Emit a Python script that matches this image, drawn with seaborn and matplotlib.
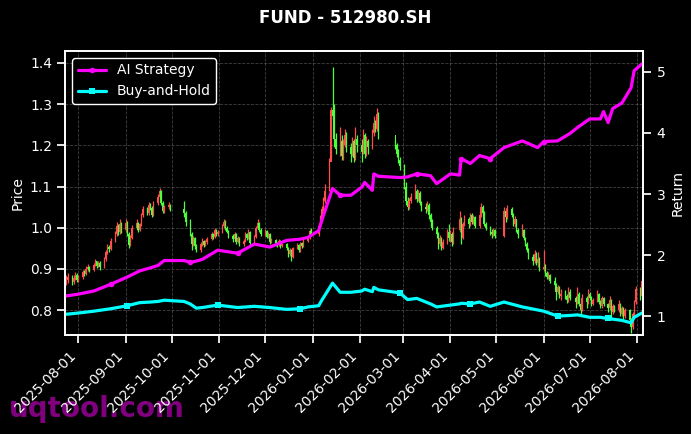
import pandas as pd
import numpy as np
import seaborn as sns
import matplotlib
matplotlib.use("Agg")
import matplotlib.pyplot as plt
import matplotlib.dates as mdates

sns.set_theme(style="ticks", rc={
    "figure.facecolor": "black", "axes.facecolor": "black",
    "axes.edgecolor": "white", "axes.labelcolor": "white",
    "text.color": "white", "xtick.color": "white", "ytick.color": "white",
    "font.size": 10, "axes.labelsize": 10, "xtick.labelsize": 10,
    "ytick.labelsize": 10, "legend.fontsize": 10,
})

# trading calendar (SSE holidays removed)
holidays = ["2025-10-01", "2025-10-02", "2025-10-03", "2025-10-06", "2025-10-07", "2025-10-08",
            "2026-01-01", "2026-01-02",
            "2026-02-16", "2026-02-17", "2026-02-18", "2026-02-19", "2026-02-20", "2026-02-23",
            "2026-04-06", "2026-05-01", "2026-05-04", "2026-05-05", "2026-06-19"]

close = [
    # 2025-07
    0.872, 0.880, 0.868, 0.878, 0.885, 0.874,
    # 2025-08
    0.880, 0.893, 0.888, 0.900, 0.905, 0.897, 0.910, 0.918, 0.908, 0.915, 0.905,
    0.925, 0.940, 0.952, 0.948, 0.968, 0.985, 1.005, 0.990, 1.010, 0.995,
    # 2025-09
    1.012, 0.985, 0.958, 0.975, 1.000, 1.012, 0.995, 1.008, 1.030, 1.045, 1.035,
    1.055, 1.048, 1.030, 1.060, 1.075, 1.090, 1.060, 1.040, 1.050, 1.055, 1.045,
    # 2025-10
    1.035, 1.015, 0.985, 0.960, 0.975, 0.955, 0.945, 0.960, 0.968, 0.958, 0.965,
    0.972, 0.985, 0.978, 0.995, 0.985, 0.990,
    # 2025-11
    1.005, 1.015, 1.000, 0.990, 0.980, 0.972, 0.985, 0.965, 0.975, 0.960,
    0.968, 0.985, 0.975, 0.990, 0.962, 0.978, 1.000, 1.012, 0.995, 0.985,
    # 2025-12
    0.992, 0.978, 0.985, 0.965, 0.970, 0.962, 0.958, 0.968, 0.955, 0.960, 0.950, 0.935,
    0.945, 0.928, 0.950, 0.958, 0.945, 0.962, 0.955, 0.968, 0.975, 0.992, 0.985,
    # 2026-01
    1.005, 1.020, 1.045, 1.065, 1.090, 1.160, 1.285, 1.270, 1.215, 1.190,
    1.210, 1.175, 1.200, 1.225, 1.195, 1.180, 1.210, 1.170, 1.215, 1.200,
    # 2026-02
    1.185, 1.225, 1.180, 1.210, 1.195, 1.230, 1.255, 1.240, 1.275, 1.225,
    1.200, 1.180, 1.165, 1.150,
    # 2026-03
    1.100, 1.065, 1.050, 1.065, 1.075, 1.090, 1.070, 1.085, 1.060, 1.050, 1.045,
    1.055, 1.030, 1.015, 1.000, 0.985, 0.960, 0.975, 0.950, 0.965, 0.990, 0.975,
    # 2026-04
    0.985, 0.965, 0.995, 1.020, 0.975, 1.010, 1.020, 1.010, 1.030, 1.015, 1.025,
    1.005, 1.030, 1.050, 1.035, 1.010, 1.000, 0.990, 0.985, 0.995, 0.980,
    # 2026-05
    1.040, 1.025, 1.045, 1.030, 1.010, 1.020, 0.995, 0.985, 0.995,
    0.975, 0.960, 0.945, 0.930, 0.920, 0.935, 0.915, 0.925, 0.900,
    # 2026-06
    0.905, 0.890, 0.880, 0.885, 0.870, 0.860, 0.845, 0.855, 0.835, 0.840, 0.835,
    0.825, 0.845, 0.830, 0.820, 0.840, 0.815, 0.800, 0.830, 0.820, 0.840,
    # 2026-07
    0.830, 0.815, 0.825, 0.840, 0.820, 0.810, 0.830, 0.815, 0.805, 0.825, 0.795, 0.810,
    0.800, 0.815, 0.790, 0.805, 0.785, 0.800, 0.775, 0.760, 0.790, 0.820, 0.850,
    # 2026-08
    0.835, 0.870,
]
high = [
    0.884, 0.889, 0.884, 0.886, 0.892, 0.890,
    0.886, 0.898, 0.897, 0.906, 0.912, 0.908, 0.915, 0.924, 0.920, 0.920, 0.918,
    0.930, 0.946, 0.960, 0.957, 0.975, 0.992, 1.015, 1.008, 1.020, 1.014,
    1.020, 1.016, 0.990, 0.982, 1.006, 1.020, 1.015, 1.012, 1.036, 1.052, 1.050,
    1.062, 1.060, 1.052, 1.066, 1.082, 1.096, 1.092, 1.065, 1.056, 1.062, 1.058,
    1.065, 1.040, 1.020, 0.990, 0.980, 0.978, 0.960, 0.965, 0.975, 0.970, 0.970,
    0.978, 0.990, 0.988, 1.000, 0.998, 0.995,
    1.010, 1.020, 1.018, 1.004, 0.994, 0.985, 0.990, 0.988, 0.980, 0.978,
    0.972, 0.990, 0.988, 0.998, 0.992, 0.982, 1.005, 1.020, 1.015, 1.000,
    0.998, 0.995, 0.990, 0.988, 0.976, 0.972, 0.966, 0.972, 0.970, 0.964, 0.962, 0.952,
    0.950, 0.948, 0.954, 0.962, 0.960, 0.966, 0.965, 0.972, 0.980, 0.998, 1.000,
    1.012, 1.030, 1.052, 1.075, 1.105, 1.170, 1.292, 1.390, 1.300, 1.230,
    1.245, 1.225, 1.215, 1.240, 1.232, 1.205, 1.220, 1.215, 1.245, 1.225,
    1.215, 1.240, 1.230, 1.222, 1.215, 1.240, 1.270, 1.262, 1.290, 1.280,
    1.212, 1.205, 1.190, 1.172,
    1.155, 1.110, 1.075, 1.072, 1.085, 1.105, 1.095, 1.092, 1.088, 1.065, 1.060,
    1.065, 1.060, 1.035, 1.020, 1.005, 0.990, 0.982, 0.978, 0.972, 0.998, 1.010,
    0.995, 0.990, 1.002, 1.040, 1.025, 1.015, 1.030, 1.025, 1.036, 1.035, 1.030,
    1.028, 1.040, 1.060, 1.055, 1.040, 1.015, 1.005, 0.998, 1.000, 0.998,
    1.050, 1.048, 1.055, 1.050, 1.035, 1.028, 1.022, 1.000, 1.008,
    0.998, 0.978, 0.965, 0.950, 0.935, 0.945, 0.940, 0.940, 0.928,
    0.945, 0.912, 0.895, 0.892, 0.888, 0.880, 0.865, 0.862, 0.858, 0.850, 0.848,
    0.840, 0.855, 0.850, 0.835, 0.855, 0.845, 0.820, 0.838, 0.835, 0.850,
    0.845, 0.835, 0.830, 0.848, 0.842, 0.825, 0.835, 0.832, 0.818, 0.835, 0.828, 0.815,
    0.812, 0.825, 0.818, 0.810, 0.808, 0.805, 0.802, 0.780, 0.795, 0.825, 0.858,
    0.855, 0.882,
]
low = [
    0.860, 0.866, 0.862, 0.864, 0.873, 0.868,
    0.868, 0.876, 0.883, 0.884, 0.896, 0.892, 0.895, 0.906, 0.902, 0.905, 0.898,
    0.902, 0.920, 0.936, 0.940, 0.945, 0.965, 0.980, 0.982, 0.985, 0.988,
    0.990, 0.980, 0.950, 0.955, 0.972, 0.995, 0.990, 0.992, 1.004, 1.025, 1.030,
    1.032, 1.042, 1.026, 1.028, 1.055, 1.070, 1.055, 1.035, 1.036, 1.045, 1.040,
    1.025, 1.005, 0.980, 0.945, 0.955, 0.948, 0.940, 0.942, 0.955, 0.952, 0.955,
    0.960, 0.970, 0.972, 0.975, 0.980, 0.980,
    0.988, 1.000, 0.995, 0.986, 0.975, 0.965, 0.970, 0.960, 0.962, 0.955,
    0.956, 0.965, 0.970, 0.972, 0.956, 0.960, 0.975, 0.996, 0.990, 0.980,
    0.980, 0.974, 0.975, 0.960, 0.962, 0.956, 0.952, 0.955, 0.950, 0.952, 0.945, 0.930,
    0.932, 0.920, 0.926, 0.948, 0.940, 0.942, 0.950, 0.952, 0.965, 0.972, 0.980,
    0.980, 1.000, 1.015, 1.040, 1.060, 1.088, 1.170, 1.265, 1.195, 1.180,
    1.175, 1.165, 1.165, 1.195, 1.185, 1.160, 1.175, 1.160, 1.165, 1.185,
    1.160, 1.180, 1.170, 1.175, 1.180, 1.190, 1.222, 1.232, 1.235, 1.215,
    1.190, 1.172, 1.158, 1.140,
    1.095, 1.055, 1.042, 1.045, 1.060, 1.070, 1.062, 1.065, 1.055, 1.040, 1.035,
    1.040, 1.022, 1.005, 0.995, 0.975, 0.948, 0.955, 0.945, 0.948, 0.960, 0.968,
    0.965, 0.955, 0.960, 0.990, 0.960, 0.972, 1.005, 1.000, 1.005, 1.010, 1.010,
    1.000, 1.000, 1.025, 1.030, 1.005, 0.995, 0.982, 0.975, 0.980, 0.975,
    0.978, 1.015, 1.020, 1.025, 1.005, 1.002, 0.990, 0.975, 0.980,
    0.970, 0.955, 0.940, 0.925, 0.910, 0.915, 0.910, 0.905, 0.895,
    0.895, 0.882, 0.875, 0.875, 0.865, 0.855, 0.825, 0.840, 0.830, 0.825, 0.828,
    0.817, 0.820, 0.825, 0.805, 0.815, 0.810, 0.790, 0.798, 0.805, 0.815,
    0.825, 0.810, 0.812, 0.820, 0.815, 0.805, 0.805, 0.810, 0.795, 0.800, 0.775, 0.790,
    0.795, 0.795, 0.785, 0.785, 0.778, 0.780, 0.770, 0.745, 0.755, 0.785, 0.815,
    0.825, 0.830,
]
first_open = 0.866

# strategy curves (right axis)
curve_dates = ["2025-07-24", "2025-08-01", "2025-08-11", "2025-08-22", "2025-09-02", "2025-09-10",
               "2025-09-17", "2025-09-22", "2025-09-26", "2025-10-09", "2025-10-13", "2025-10-17",
               "2025-10-21", "2025-10-31", "2025-11-13", "2025-11-24", "2025-12-04", "2025-12-15",
               "2025-12-24", "2025-12-29", "2026-01-05", "2026-01-07", "2026-01-12", "2026-01-14",
               "2026-01-19", "2026-01-26", "2026-02-02", "2026-02-04", "2026-02-09", "2026-02-10",
               "2026-02-13", "2026-02-27", "2026-03-04", "2026-03-10", "2026-03-19", "2026-03-23",
               "2026-04-01", "2026-04-07", "2026-04-08", "2026-04-14", "2026-04-20", "2026-04-27",
               "2026-05-06", "2026-05-18", "2026-05-28", "2026-06-01", "2026-06-10", "2026-06-18",
               "2026-06-23", "2026-07-01", "2026-07-08", "2026-07-10", "2026-07-13", "2026-07-16",
               "2026-07-22", "2026-07-28", "2026-07-30", "2026-08-04"]
ai_strategy = [1.33, 1.36, 1.41, 1.52, 1.64, 1.74, 1.79, 1.83, 1.91, 1.91, 1.88, 1.90,
               1.93, 2.08, 2.03, 2.18, 2.13, 2.24, 2.26, 2.29, 2.40, 2.57, 2.94, 3.09,
               2.98, 2.98, 3.11, 3.19, 3.06, 3.33, 3.29, 3.27, 3.28, 3.33, 3.30, 3.17,
               3.33, 3.31, 3.58, 3.50, 3.63, 3.58, 3.76, 3.87, 3.76, 3.86, 3.87, 3.99,
               4.09, 4.23, 4.23, 4.35, 4.17, 4.40, 4.49, 4.74, 5.02, 5.13]
buy_hold = [1.03, 1.05, 1.08, 1.12, 1.17, 1.22, 1.23, 1.24, 1.26, 1.24, 1.20, 1.13,
            1.14, 1.18, 1.14, 1.16, 1.14, 1.11, 1.12, 1.15, 1.17, 1.26, 1.46, 1.54,
            1.39, 1.39, 1.41, 1.44, 1.40, 1.47, 1.43, 1.38, 1.27, 1.29, 1.20, 1.15,
            1.18, 1.20, 1.21, 1.20, 1.23, 1.16, 1.23, 1.15, 1.10, 1.08, 1.00, 1.01,
            1.02, 0.98, 0.98, 0.97, 0.97, 0.95, 0.93, 0.89, 0.98, 1.05]

days = pd.bdate_range("2025-07-24", "2026-08-04")
days = days[~days.isin(pd.to_datetime(holidays))]
assert len(days) == len(close) == len(high) == len(low), (len(days), len(close), len(high), len(low))

df = pd.DataFrame({"date": days, "close": close, "high": high, "low": low})
df["open"] = df["close"].shift(1).fillna(first_open)
up = df["close"] >= df["open"]
col = np.where(up, "#ff4d4d", "#4dff3a")

curves = pd.DataFrame({"date": pd.to_datetime(curve_dates), "ai": ai_strategy, "bh": buy_hold})

fig = plt.figure(figsize=(6.91, 4.34), dpi=100)
ax = fig.add_axes([0.0944, 0.2281, 0.9367 - 0.0944 - 0.0057, 0.8825 - 0.2281])

ax.vlines(df["date"], df["low"], df["high"], colors=col, linewidth=0.9, zorder=2)
ax.bar(df["date"], (df["close"] - df["open"]).abs().clip(lower=0.002),
       bottom=np.minimum(df["open"], df["close"]), width=0.8, color=col, linewidth=0, zorder=2)
ax.set_ylim(0.7395, 1.429)
ax.set_ylabel("Price")
ax.grid(True, color="gray", linestyle="--", linewidth=0.6, alpha=0.5)

ax2 = ax.twinx()
sns.lineplot(data=curves, x="date", y="ai", ax=ax2, color="#ff00ff", linewidth=2.3,
             marker="o", markersize=4, markeredgewidth=0, markevery=[3, 10, 14, 24, 33, 38, 41, 45],
             label="AI Strategy")
sns.lineplot(data=curves, x="date", y="bh", ax=ax2, color="#00ffff", linewidth=2.3,
             marker="s", markersize=4, markeredgewidth=0, markevery=[4, 13, 18, 31, 39, 46, 52],
             label="Buy-and-Hold")
ax2.set_ylim(0.69, 5.343)
ax2.set_ylabel("Return")
ax2.set_xlabel("")
ax2.grid(False)
leg = ax2.legend(loc="upper left", facecolor="black", edgecolor="white", framealpha=1)
for t in leg.get_texts():
    t.set_color("white")

ax.set_xlim(pd.Timestamp("2025-07-23 10:00"), pd.Timestamp("2026-08-05"))
ax.xaxis.set_major_locator(mdates.MonthLocator())
ax.xaxis.set_major_formatter(mdates.DateFormatter("%Y-%m-%d"))
ax.set_xlabel("")
plt.setp(ax.get_xticklabels(), rotation=45, ha="right")
for s in ax.spines.values():
    s.set_color("white")
for s in ax2.spines.values():
    s.set_color("white")

fig.text(0.5, 0.958, "FUND - 512980.SH", ha="center", va="center",
         fontsize=12, fontweight="bold", color="white")
# watermark sits underneath the date labels
fig.text(0.013, 0.058, "uqtool.com", ha="left", va="center",
         fontsize=20, fontweight="bold", color="#800080", zorder=-1)

fig.savefig("out.png", dpi=100, facecolor="black")
